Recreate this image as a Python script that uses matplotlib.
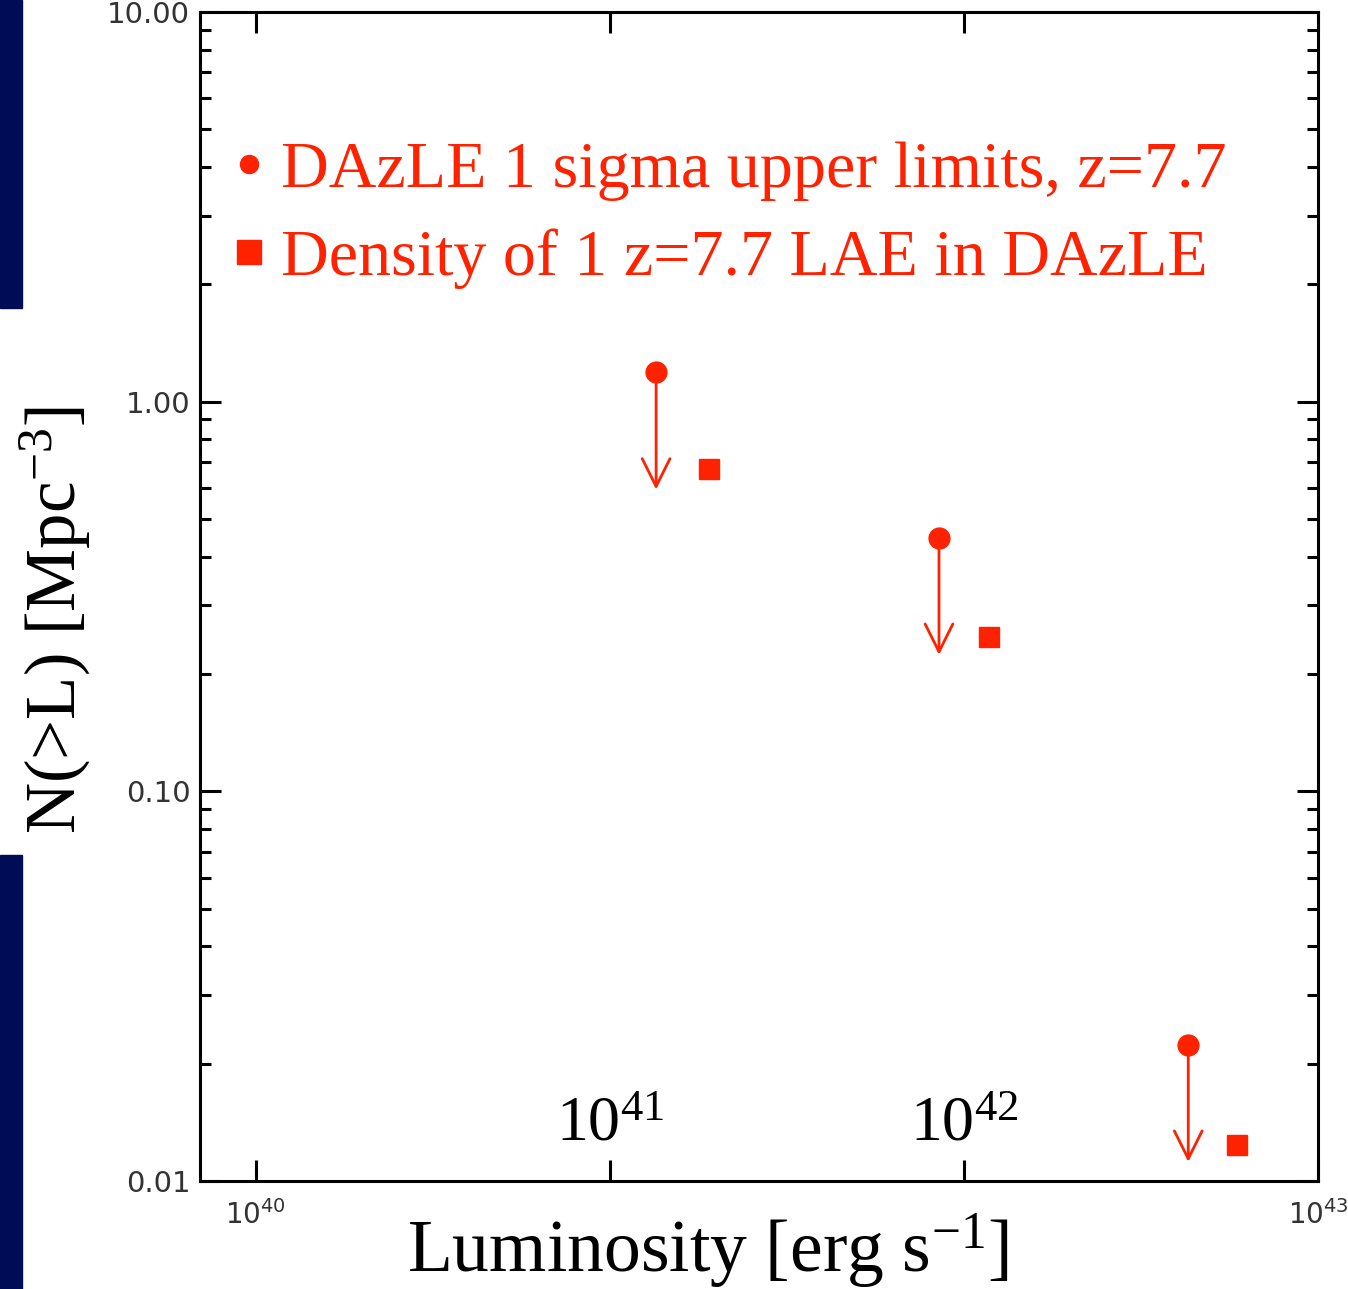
import matplotlib
matplotlib.use('Agg')
import matplotlib.pyplot as plt
from matplotlib.lines import Line2D
from matplotlib.patches import Rectangle
import numpy as np

plt.rcParams['mathtext.fontset'] = 'custom'
plt.rcParams['mathtext.rm'] = 'Liberation Serif'
plt.rcParams['mathtext.it'] = 'Liberation Serif:italic'
plt.rcParams['mathtext.bf'] = 'Liberation Serif:bold'

red = '#ff2200'

# upper limits (circles) and density of one LAE (squares)
lum_lim = [1.35e41, 8.5e41, 4.3e42]
n_lim = [1.19, 0.448, 0.0224]
lum_one = [1.9e41, 1.18e42, 5.9e42]
n_one = [0.67, 0.249, 0.0124]
arrow_factor = 0.5

xticks = [1e40, 1e41, 1e42, 1e43]
xticklabels = ['$10^{40}$', '', '', '$10^{43}$']
yticks = [0.01, 0.1, 1.0, 10.0]
yticklabels = ['0.01', '0.10', '1.00', '10.00']

fig = plt.figure(figsize=(13.48, 12.89), dpi=100)

# bits of the slide background on the left edge
fig.patches.append(Rectangle((0, 1 - 308/1289), 22/1348, 308/1289,
                             transform=fig.transFigure, color='#000c55', zorder=0))
fig.patches.append(Rectangle((0, 0), 22/1348, 1 - 855/1289,
                             transform=fig.transFigure, color='#000c55', zorder=0))

ax = fig.add_axes([200/1348, 1 - 1181/1289, 1118/1348, 1169/1289])
ax.set_xscale('log')
ax.set_yscale('log')
ax.set_xlim(10**39.842, 1e43)
ax.set_ylim(0.01, 10)

ax.plot(lum_lim, n_lim, 'o', color=red, ms=15, mec=red, zorder=3)
ax.plot(lum_one, n_one, 's', color=red, ms=14, mec=red, zorder=3)
for x, y in zip(lum_lim, n_lim):
    ax.annotate('', xy=(x, y*arrow_factor), xytext=(x, y),
                arrowprops=dict(arrowstyle='->', color=red, lw=2,
                                mutation_scale=50, shrinkA=0, shrinkB=0))

for s in ax.spines.values():
    s.set_linewidth(2.2)

ax.set_xticks(xticks)
ax.set_xticklabels(xticklabels)
ax.xaxis.set_minor_locator(matplotlib.ticker.NullLocator())
ax.set_yticks(yticks)
ax.set_yticklabels(yticklabels)
ax.yaxis.set_minor_locator(matplotlib.ticker.LogLocator(base=10, subs=np.arange(2, 10)))
ax.yaxis.set_minor_formatter(matplotlib.ticker.NullFormatter())
ax.tick_params(which='major', direction='in', length=15, width=2.2,
               top=True, right=True, labelsize=21, labelcolor='#333333')
ax.tick_params(which='minor', direction='in', length=8, width=2.2, right=True)
ax.tick_params(axis='x', pad=14, labelsize=20)
ax.tick_params(axis='y', pad=7)
for lab in ax.get_xticklabels() + ax.get_yticklabels():
    lab.set_fontfamily('DejaVu Sans')
    lab.set_math_fontfamily('dejavusans')

# big decade labels inside the plot
for xv, lab in [(1e41, '$10^{41}$'), (1e42, '$10^{42}$')]:
    ax.text(xv, 0.035, lab, transform=ax.get_xaxis_transform(), ha='center',
            va='baseline', fontsize=46, fontfamily='Liberation Serif')

fig.text(708/1348, 1 - 1272/1289, 'Luminosity [erg s$^{-1}$]', ha='center',
         va='baseline', fontsize=53, fontfamily='Liberation Serif')
fig.text(55/1348, 1 - 620/1289, 'N(>L) [Mpc$^{-3}$]', ha='center', va='center',
         rotation=90, fontsize=51, fontfamily='Liberation Serif')

handles = [Line2D([], [], ls='', marker='o', ms=13, color=red),
           Line2D([], [], ls='', marker='s', ms=17, color=red)]
labels = ['DAzLE 1 sigma upper limits, z=7.7', 'Density of 1 z=7.7 LAE in DAzLE']
leg = ax.legend(handles, labels, loc='upper left', bbox_to_anchor=(0.032, 0.89),
                frameon=False, handlelength=0.4, handletextpad=0.28,
                labelspacing=0.42, borderpad=0, borderaxespad=0,
                prop={'family': 'Liberation Serif', 'size': 47.5})
for t in leg.get_texts():
    t.set_color(red)

plt.savefig('out.png', dpi=100)
